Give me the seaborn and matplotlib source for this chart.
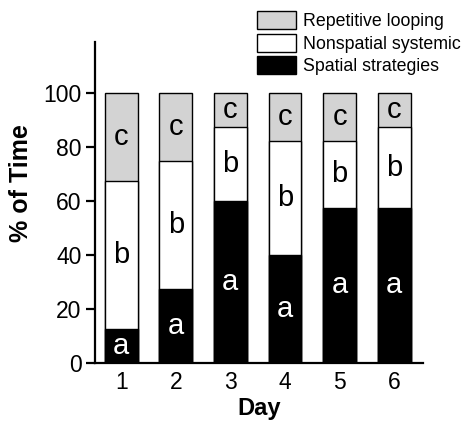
"""Stacked bar chart: search strategy use (% of time) across training days."""
import numpy as np
import matplotlib
matplotlib.use("Agg")
import matplotlib.pyplot as plt
import seaborn as sns

days = ["1", "2", "3", "4", "5", "6"]
spatial = [12.5, 27.5, 60.0, 40.0, 57.5, 57.5]
nonspatial = [55.0, 47.5, 27.5, 42.5, 25.0, 30.0]
looping = [32.5, 25.0, 12.5, 17.5, 17.5, 12.5]
series_names = ["Spatial strategies", "Nonspatial systemic", "Repetitive looping"]
seg_letters = ["a", "b", "c"]
y_ticks = [0, 20, 40, 60, 80, 100]

sns.set_theme(style="ticks")
plt.rcParams["font.family"] = ["Liberation Sans", "DejaVu Sans"]
plt.rcParams["text.color"] = "black"
plt.rcParams["axes.labelcolor"] = "black"

fig = plt.figure(figsize=(4.63, 4.22), dpi=100)
ax = fig.add_axes([0.205, 0.140, 0.709, 0.760])

bottom = np.array(spatial)
mid = bottom + np.array(nonspatial)
top = mid + np.array(looping)

# draw tallest first so the shorter stacks sit on top
sns.barplot(x=days, y=top, color="#d3d3d3", edgecolor="black", linewidth=1,
            width=0.6, saturation=1, label=series_names[2], ax=ax)
sns.barplot(x=days, y=mid, color="white", edgecolor="black", linewidth=1,
            width=0.6, saturation=1, label=series_names[1], ax=ax)
sns.barplot(x=days, y=bottom, color="black", edgecolor="black", linewidth=1,
            width=0.6, saturation=1, label=series_names[0], ax=ax)
if ax.get_legend() is not None:
    ax.get_legend().remove()

# letters centred in each segment
for i in range(len(days)):
    lows = [0, bottom[i], mid[i]]
    highs = [bottom[i], mid[i], top[i]]
    for j, letter in enumerate(seg_letters):
        ax.text(i, (lows[j] + highs[j]) / 2, letter, ha="center", va="center",
                fontsize=21, color="white" if j == 0 else "black")

ax.set_ylim(0, 119)
ax.set_xlim(-0.48, 5.53)
ax.set_yticks(y_ticks)
sns.despine(ax=ax)
for side in ["left", "bottom"]:
    ax.spines[side].set_linewidth(1.6)
    ax.spines[side].set_color("black")
ax.tick_params(axis="y", length=6.5, width=1.6, pad=3, labelsize=16.5, colors="black")
ax.tick_params(axis="x", length=0, pad=6, labelsize=16.5, colors="black")

ax.set_xlabel("Day", fontsize=17, fontweight="bold", labelpad=2)
ax.set_ylabel("% of Time", fontsize=18, fontweight="bold")
ax.yaxis.set_label_coords(-0.19, 0.562)

handles, labels = ax.get_legend_handles_labels()
order = [labels.index(n) for n in series_names[::-1]]
fig.legend([handles[k] for k in order], [labels[k] for k in order],
           loc="upper left", bbox_to_anchor=(0.555, 0.974), frameon=False,
           fontsize=12.8, handlelength=2.2, handleheight=1.18, handletextpad=0.4,
           labelspacing=0.2, borderpad=0, borderaxespad=0)

fig.savefig("out.png", dpi=100)
plt.close(fig)
